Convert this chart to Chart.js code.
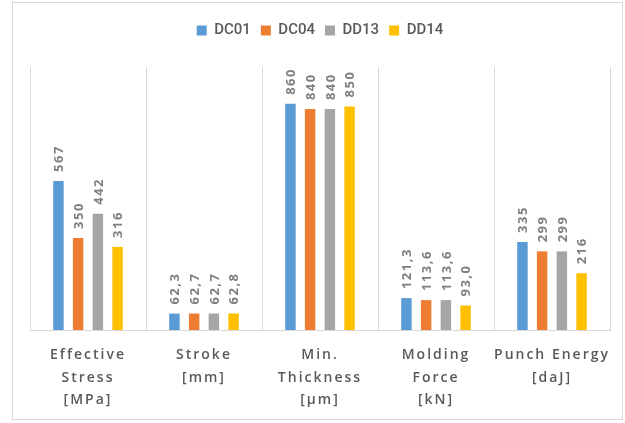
<!DOCTYPE html>
<html>
<head>
<meta charset="utf-8">
<script src="https://cdn.jsdelivr.net/npm/chart.js@4"></script>
<style>
  html, body { margin: 0; padding: 0; background: #fff; }
  #wrap { width: 625px; height: 423px; }
</style>
</head>
<body>
<div id="wrap"><canvas id="chart" width="625" height="423"></canvas></div>
<script>
const categories = [
    ['Effective', 'Stress', '[MPa]'],
    ['Stroke', '[mm]'],
    ['Min.', 'Thickness', '[µm]'],
    ['Molding', 'Force', '[kN]'],
    ['Punch Energy', '[daJ]']
];
const decimals = [0, 1, 0, 1, 0];
const dc01 = [567, 62.3, 860, 121.3, 335];
const dc04 = [350, 62.7, 840, 113.6, 299];
const dd13 = [442, 62.7, 840, 113.6, 299];
const dd14 = [316, 62.8, 850, 93.0, 216];

const gray = '#d9d9d9';

// frame + white background
const frame = {
    id: 'frame',
    beforeDraw(chart) {
        const c = chart.ctx;
        c.save();
        c.fillStyle = '#fff';
        c.fillRect(0, 0, chart.width, chart.height);
        c.strokeStyle = gray;
        c.lineWidth = 1;
        c.strokeRect(12.5, 2.5, 610, 417);
        c.restore();

        // spaced out category labels
        const xs = chart.scales.x;
        if (xs && !xs.$spaced) {
            const dl = xs.drawLabels;
            xs.drawLabels = function (area) {
                this.ctx.save();
                this.ctx.letterSpacing = '2px';
                dl.call(this, area);
                this.ctx.restore();
            };
            xs.$spaced = true;
        }
    },
    beforeLayout(chart) {
        const lg = chart.legend;
        if (lg && !lg.$fixed) {
            const fit = lg.fit;
            lg.fit = function () {
                fit.call(this);
                this.height = 54;
            };
            lg.$fixed = true;
        }
    }
};

// vertical value labels above the bars
const barLabels = {
    id: 'barLabels',
    afterDatasetsDraw(chart) {
        const c = chart.ctx;
        c.save();
        c.font = 'bold 13px "Open Sans"';
        c.fillStyle = '#7f7f7f';
        c.letterSpacing = '1.5px';
        c.textAlign = 'left';
        c.textBaseline = 'middle';
        chart.data.datasets.forEach((ds, i) => {
            chart.getDatasetMeta(i).data.forEach((bar, j) => {
                const txt = ds.data[j].toFixed(decimals[j]).replace('.', ',');
                c.save();
                c.translate(bar.x + 1, bar.y - 9);
                c.rotate(-Math.PI / 2);
                c.fillText(txt, 0, 0);
                c.restore();
            });
        });
        c.restore();
    }
};

const ctx = document.getElementById('chart');

const myChart = new Chart(ctx, {
    type: 'bar',
    data: {
        labels: categories,
        datasets: [
            { label: 'DC01', data: dc01, backgroundColor: '#5B9BD5' },
            { label: 'DC04', data: dc04, backgroundColor: '#ED7D31' },
            { label: 'DD13', data: dd13, backgroundColor: '#A5A5A5' },
            { label: 'DD14', data: dd14, backgroundColor: '#FFC000' }
        ]
    },
    options: {
        responsive: false,
        animation: false,
        layout: { padding: { top: 13, left: 30, right: 15, bottom: 0 } },
        datasets: {
            bar: { categoryPercentage: 0.68, barPercentage: 0.53 }
        },
        plugins: {
            legend: {
                position: 'top',
                labels: {
                    boxWidth: 10,
                    boxHeight: 10,
                    padding: 10,
                    color: '#595959',
                    font: { family: 'Roboto', size: 15, weight: '500' }
                }
            },
            tooltip: { enabled: false }
        },
        scales: {
            x: {
                grid: { color: gray, drawTicks: false, offset: true },
                border: { color: gray },
                ticks: {
                    autoSkip: false,
                    maxRotation: 0,
                    padding: 14,
                    color: '#595959',
                    font: { family: 'Open Sans', size: 14, weight: '600', lineHeight: 1.6 }
                },
                afterFit(scale) { scale.height = 93; }
            },
            y: {
                display: false,
                min: 0,
                max: 1000
            }
        }
    },
    plugins: [frame, barLabels]
});
</script>
</body>
</html>
